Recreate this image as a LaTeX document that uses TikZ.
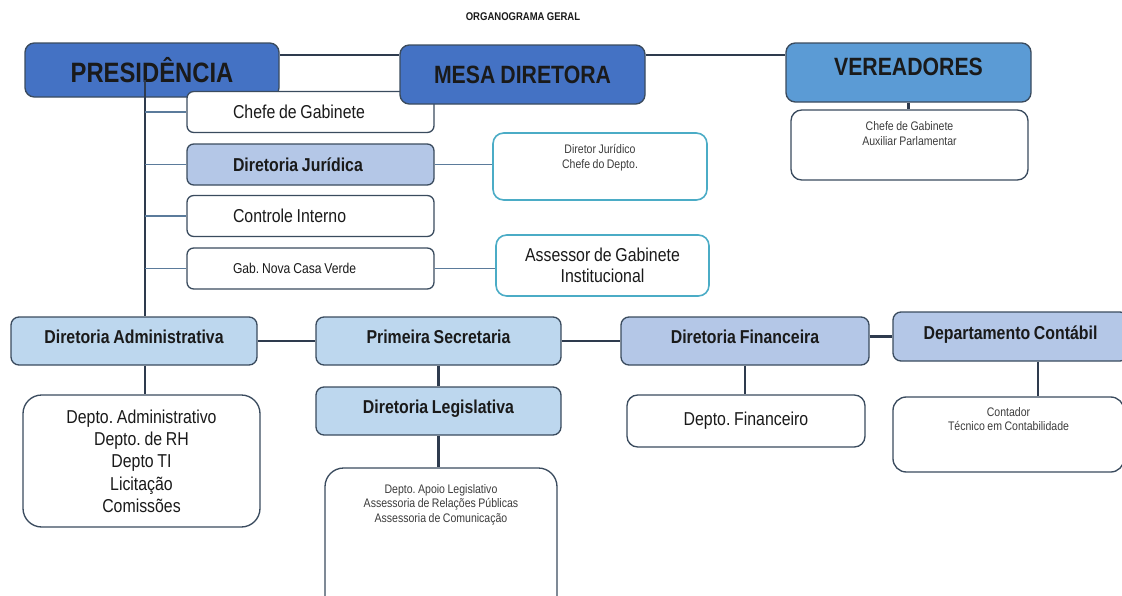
\documentclass[tikz,border=0pt]{standalone}
\usepackage{fontspec}
\setmainfont{Liberation Sans}[FakeStretch=0.85, WordSpace=0.85]
\usepackage{tikz}
\usetikzlibrary{positioning}
\frenchspacing
\definecolor{TopBlue}{HTML}{4472C4}
\definecolor{SkyBlue}{HTML}{5B9BD5}
\definecolor{PaleBlue}{HTML}{BDD7EE}
\definecolor{LilacBlue}{HTML}{B4C7E7}
\definecolor{EdgeGray}{HTML}{3A4B5E}
\definecolor{LinkCyan}{HTML}{4BACC6}
\definecolor{TrunkNavy}{HTML}{2E3B4E}
\definecolor{BranchBlue}{HTML}{5B7B9B}
\definecolor{InkDark}{HTML}{1A1A1A}
\tikzset{
  headbox/.style={rectangle, rounded corners=7pt, draw=EdgeGray, line width=1pt, fill=TopBlue, text=InkDark, font=\bfseries\fontsize{18.75}{22}\selectfont, minimum height=44.25pt},
  staffbox/.style={rectangle, rounded corners=5pt, draw=EdgeGray, line width=1pt, fill=white, text=InkDark, font=\fontsize{14}{16}\selectfont, align=flush left, text width=116.25pt, inner xsep=34.5pt, minimum height=30.75pt},
  dirbox/.style={rectangle, rounded corners=6pt, draw=EdgeGray, line width=1pt, fill=PaleBlue, text=InkDark, font=\bfseries\fontsize{14}{16}\selectfont, minimum height=36pt, text height=10pt, text depth=6pt},
  listbox/.style={rectangle, rounded corners=12pt, draw=EdgeGray, line width=1pt, fill=white, text=InkDark, font=\fontsize{14}{16.75}\selectfont, align=center},
  linkbox/.style={rectangle, rounded corners=8pt, draw=LinkCyan, line width=1.2pt, fill=white, text=InkDark, align=center},
  smalltext/.style={font=\fontsize{9.3}{11}\selectfont, align=center, inner sep=0pt, text=InkDark!85},
  mainline/.style={draw=TrunkNavy, line width=1.6pt},
  branchline/.style={draw=BranchBlue, line width=1.4pt}
}

\begin{document}
\begin{tikzpicture}[x=0.75pt, y=-0.75pt]
  \useasboundingbox (0,0) rectangle (1122,596);
  \node[font=\bfseries\fontsize{8.4}{10}\selectfont, text=InkDark] (title) at (523,17) {ORGANOGRAMA GERAL};

  % Topo
  \node[headbox, font=\bfseries\fontsize{21}{24}\selectfont, minimum width=190.5pt, minimum height=40.5pt] (pres) at (152,70) {PRESIDÊNCIA};
  \node[staffbox] (chefe) at (310.5,112) {Chefe de Gabinete};
  \node[headbox, minimum width=183.75pt] (mesa) at (522.5,74.5) {MESA DIRETORA};
  \node[headbox, fill=SkyBlue, minimum width=183.75pt, text depth=8pt] (ver) at (908.5,72.5) {VEREADORES};
  \node[listbox, rounded corners=8pt, minimum width=177.75pt, minimum height=52.5pt] (versub) at (909.5,145) {};
  \node[smalltext, below=9pt of versub.north] (vertext) {Chefe de Gabinete\\Auxiliar Parlamentar};

  % Assessorias da presidencia
  \node[staffbox, fill=LilacBlue, font=\bfseries\fontsize{14}{16}\selectfont] (jur) at (310.5,164.5) {Diretoria Jurídica};
  \node[staffbox] (ctrl) at (310.5,216) {Controle Interno};
  \node[staffbox, font=\fontsize{10.7}{12}\selectfont] (gab) at (310.5,268.5) {Gab. Nova Casa Verde};
  \node[linkbox, minimum width=160.5pt, minimum height=50.25pt] (jurinfo) at (600,166.5) {};
  \node[smalltext, below=9pt of jurinfo.north] (jurtext) {Diretor Jurídico\\Chefe do Depto.};
  \node[linkbox, font=\fontsize{14}{15.75}\selectfont, minimum width=159.75pt, minimum height=45.75pt] (assessor) at (602.5,265.5) {Assessor de Gabinete\\Institucional};

  % Diretorias
  \node[dirbox, minimum width=184.5pt] (diradm) at (134,341) {Diretoria Administrativa};
  \node[dirbox, minimum width=183.75pt] (prim) at (438.5,341) {Primeira Secretaria};
  \node[dirbox, fill=LilacBlue, minimum width=186pt] (dirfin) at (745,341) {Diretoria Financeira};
  \node[dirbox, fill=LilacBlue, minimum width=176.25pt, minimum height=36.75pt] (depcont) at (1010.5,336.5) {Departamento Contábil};
  \node[dirbox, minimum width=183.75pt] (dirleg) at (438.5,411) {Diretoria Legislativa};

  % Departamentos
  \node[listbox, rounded corners=14pt, minimum width=177.75pt, minimum height=99pt] (admlist) at (141.5,461) {Depto. Administrativo\\Depto. de RH\\Depto TI\\Licitação\\Comissões};
  \node[listbox, rounded corners=14pt, minimum width=174pt, minimum height=114pt] (leglist) at (441,544) {};
  \node[smalltext, below=12.5pt of leglist.north] (legtext) {Depto. Apoio Legislativo\\Assessoria de Relações Públicas\\Assessoria de Comunicação};
  \node[listbox, rounded corners=8pt, minimum width=178.5pt, minimum height=39pt] (finlist) at (746,421) {Depto. Financeiro};
  \node[listbox, rounded corners=10pt, minimum width=173.25pt, minimum height=56.25pt] (contlist) at (1008.5,434.5) {};
  \node[smalltext, below=8pt of contlist.north] (conttext) {Contador\\Técnico em Contabilidade};

  % Ligacoes
  \coordinate (trunktop) at (145,80);
  \coordinate (conttap) at ([xshift=20.6pt]depcont.south);
  \draw[mainline] (pres.east |- 0,55) -- (mesa.west |- 0,55);
  \draw[mainline] (mesa.east |- 0,55) -- (ver.west |- 0,55);
  \draw[mainline] (ver.south) -- (ver.south |- versub.north);
  \draw[mainline] (trunktop) -- (trunktop |- diradm.north);
  \foreach \n in {chefe,jur,ctrl,gab}
    \draw[branchline] (trunktop |- \n.west) -- (\n.west);
  \draw[branchline] (jur.east) -- (jur.east -| jurinfo.west);
  \draw[branchline] (gab.east) -- (gab.east -| assessor.west);
  \draw[mainline] (diradm.east) -- (prim.west);
  \draw[mainline] (prim.east) -- (dirfin.west);
  \draw[mainline] (dirfin.east |- depcont.west) -- (depcont.west);
  \draw[mainline] (trunktop |- diradm.south) -- (trunktop |- admlist.north);
  \draw[mainline] (prim.south) -- (dirleg.north);
  \draw[mainline] (dirleg.south) -- (dirleg.south |- leglist.north);
  \draw[mainline] (dirfin.south) -- (dirfin.south |- finlist.north);
  \draw[mainline] (conttap) -- (conttap |- contlist.north);
\end{tikzpicture}
\end{document}
